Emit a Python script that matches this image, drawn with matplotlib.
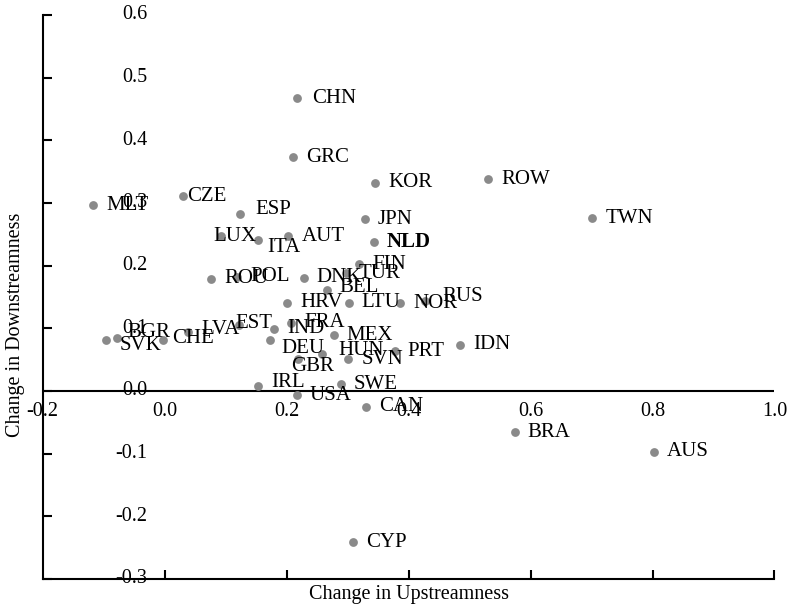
import matplotlib
matplotlib.use("Agg")
import matplotlib.pyplot as plt

plt.rcParams['font.family'] = ['Liberation Serif', 'DejaVu Serif']

countries = ['CHN', 'GRC', 'KOR', 'ROW', 'CZE', 'MLT', 'ESP', 'JPN', 'TWN', 'LUX',
             'AUT', 'ITA', 'NLD', 'FIN', 'TUR', 'DNK', 'ROU', 'POL', 'BEL', 'HRV',
             'LTU', 'NOR', 'RUS', 'FRA', 'EST', 'IND', 'MEX', 'DEU', 'LVA', 'BGR',
             'SVK', 'CHE', 'IDN', 'PRT', 'HUN', 'SVN', 'GBR', 'SWE', 'IRL', 'USA',
             'CAN', 'BRA', 'AUS', 'CYP']
upstream = [0.217, 0.211, 0.345, 0.531, 0.030, -0.117, 0.123, 0.328, 0.701, 0.093,
            0.203, 0.153, 0.343, 0.319, 0.297, 0.228, 0.076, 0.119, 0.266, 0.201,
            0.302, 0.386, 0.427, 0.207, 0.122, 0.179, 0.277, 0.173, 0.038, -0.078,
            -0.096, -0.003, 0.485, 0.377, 0.258, 0.301, 0.219, 0.289, 0.153, 0.217,
            0.330, 0.574, 0.802, 0.309]
downstream = [0.467, 0.373, 0.332, 0.338, 0.311, 0.296, 0.283, 0.274, 0.276, 0.247,
              0.247, 0.241, 0.238, 0.202, 0.188, 0.181, 0.179, 0.182, 0.161, 0.141,
              0.141, 0.140, 0.144, 0.109, 0.105, 0.099, 0.089, 0.082, 0.094, 0.085,
              0.081, 0.081, 0.074, 0.063, 0.059, 0.051, 0.051, 0.011, 0.008, -0.007,
              -0.025, -0.066, -0.097, -0.241]

x_ticks = [-0.2, 0.0, 0.2, 0.4, 0.6, 0.8, 1.0]
y_ticks = [-0.3, -0.2, -0.1, 0.0, 0.1, 0.2, 0.3, 0.4, 0.5, 0.6]

# label offsets in pixels (dx, dy), default is just right of the marker
default_off = (13, 0)
label_off = {
    'CZE': (4, 0), 'LUX': (-8, 0), 'ITA': (9, -8), 'EST': (-4, 2),
    'DEU': (11, -9), 'GBR': (-7, -7), 'SVK': (14, -5), 'BGR': (10, 5),
    'CHE': (9, 2), 'LVA': (14, 3), 'HUN': (16, 4), 'RUS': (17, 4),
    'ESP': (16, 4), 'BEL': (13, 3), 'IRL': (13, 3), 'CHN': (15, 0),
}

fig = plt.figure(figsize=(7.92, 6.11), dpi=100)
ax = fig.add_axes([0.0539, 0.0524, 0.924, 0.9231])

ax.scatter(upstream, downstream, s=40, color='#8a8a8a', zorder=3, linewidths=0)

for name, x, y in zip(countries, upstream, downstream):
    dx, dy = label_off.get(name, default_off)
    ax.annotate(name, (x, y), xytext=(dx, dy), textcoords='offset pixels',
                ha='left', va='center', fontsize=15,
                fontweight='bold' if name == 'NLD' else 'normal', zorder=4)

ax.set_xlim(-0.2, 1.0)
ax.set_ylim(-0.3, 0.6)
ax.axhline(0, color='black', lw=1.5, zorder=2)

for side in ['top', 'right']:
    ax.spines[side].set_visible(False)
for side in ['left', 'bottom']:
    ax.spines[side].set_linewidth(1.5)

ax.set_yticks(y_ticks)
ax.set_xticks(x_ticks[1:])
ax.tick_params(direction='in', length=6.5, width=1.5,
               labelleft=False, labelbottom=False)

for t in x_ticks:
    ax.text(t, -0.017, f'{t:.1f}', ha='center', va='top', fontsize=14.5)
for t in y_ticks:
    ax.text(-0.028, t, f'{t:.1f}', ha='right', va='center', fontsize=14.5)

ax.set_xlabel('Change in Upstreamness', fontsize=14.5, labelpad=4)
ax.set_ylabel('Change in Downstreamness', fontsize=14.5)
ax.yaxis.set_label_coords(-0.024, 0.45)

fig.savefig('out.png', dpi=100)
